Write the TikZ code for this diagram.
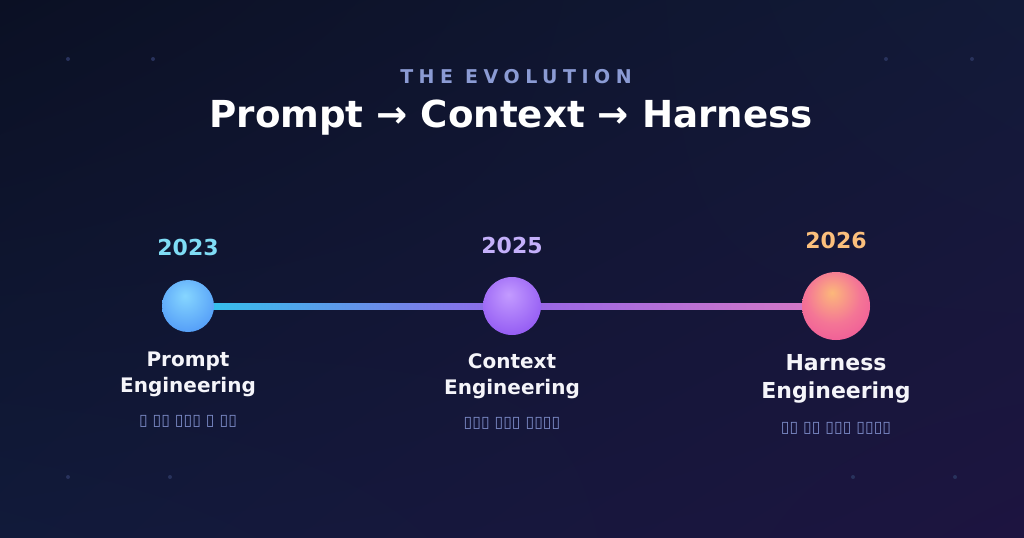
\documentclass[tikz,border=0pt]{standalone}
\usepackage{fontspec}
\setmainfont{DejaVu Sans}
\newfontfamily\trackfont{DejaVu Sans}[LetterSpace=29]
\usetikzlibrary{calc,backgrounds,shadings}

\definecolor{bgtl}{HTML}{0B1024}
\definecolor{bgtr}{HTML}{121A38}
\definecolor{bgbl}{HTML}{111A3A}
\definecolor{bgbr}{HTML}{1D1440}
\definecolor{kicker}{HTML}{8B9BD4}
\definecolor{labelwhite}{HTML}{F5F5FA}
\definecolor{notecol}{HTML}{7D8CC8}
\definecolor{yrcyan}{HTML}{7FDCF5}
\definecolor{yrviolet}{HTML}{C4B0FA}
\definecolor{yrpeach}{HTML}{FBBF7C}
\definecolor{linecyan}{HTML}{2EC6EC}
\definecolor{lineviolet}{HTML}{9466E8}
\definecolor{linepink}{HTML}{DA7AC4}
\definecolor{bluehi}{HTML}{86D6FF}
\definecolor{bluelo}{HTML}{3A80F4}
\definecolor{purphi}{HTML}{C39BFF}
\definecolor{purplo}{HTML}{7B3AED}
\definecolor{pinkhi}{HTML}{FCB87A}
\definecolor{pinkmid}{HTML}{F47596}
\definecolor{pinklo}{HTML}{EC4899}
\definecolor{dotcol}{HTML}{28325C}

\pgfdeclareradialshading{ballblue}{\pgfpoint{-3bp}{10bp}}{color(0bp)=(bluehi); color(48bp)=(bluelo); color(70bp)=(bluelo)}
\pgfdeclareradialshading{ballpurple}{\pgfpoint{-3bp}{10bp}}{color(0bp)=(purphi); color(48bp)=(purplo); color(70bp)=(purplo)}
\pgfdeclareradialshading{ballpink}{\pgfpoint{-3bp}{10bp}}{color(0bp)=(pinkhi); color(20bp)=(pinkmid); color(44bp)=(pinklo); color(70bp)=(pinklo)}

\tikzset{
  stage/.style={circle, inner sep=0pt, shade, minimum size=#1},
  year/.style={anchor=base, font=\fontsize{16.5}{20}\selectfont\bfseries},
  label/.style={anchor=base, align=center, text=labelwhite, font=\fontsize{15}{19.5}\selectfont\bfseries},
  note/.style={anchor=base, text=notecol, font=\fontsize{11.8}{14}\selectfont},
}

\begin{document}
\begin{tikzpicture}[x=0.75pt, y=-0.75pt]
  \useasboundingbox (0,0) rectangle (1024,537);

  % heading
  \node[anchor=base, text=kicker, font=\trackfont\fontsize{14.25}{17}\selectfont\bfseries] (kicker) at (516,83) {THE EVOLUTION};
  \node[anchor=base, text=white, font=\fontsize{27.9}{33}\selectfont\bfseries] (title) at (511,127) {Prompt → Context → Harness};

  % the three stages
  \node[stage=39pt, shading=ballblue] (s1) at (188,306) {};
  \node[stage=43.5pt, shading=ballpurple] (s2) at (512,306) {};
  \node[stage=51pt, shading=ballpink] (s3) at (836,306) {};

  \node[year, text=yrcyan] (y1) at (188,255) {2023};
  \node[year, text=yrviolet] (y2) at (512,253) {2025};
  \node[year, text=yrpeach] (y3) at (836,248) {2026};

  % base of a two-line label is its last line
  \node[label] (l1) at (188,392) {Prompt\\Engineering};
  \node[label] (l2) at (512,394) {Context\\Engineering};
  \node[label, font=\fontsize{16.5}{20.5}\selectfont\bfseries] (l3) at (836,398) {Harness\\Engineering};

  \node[note] (n1) at (188,425) {▯ ▯▯ ▯▯▯ ▯ ▯▯};
  \node[note] (n2) at (512,427) {▯▯▯ ▯▯▯ ▯▯▯▯};
  \node[note] (n3) at (836,432) {▯▯ ▯▯ ▯▯▯ ▯▯▯▯};

  \begin{scope}[on background layer]
    \shade[upper left=bgtl, upper right=bgtr, lower left=bgbl, lower right=bgbr] (0,0) rectangle (1024,537);
    \foreach \dx/\dy in {68/59, 153/59, 886/59, 972/59, 68/477, 170/477, 853/477, 955/477}{
      \fill[dotcol] (\dx,\dy) circle (1.5pt);
    }
    % middle color last, or right color resets it
    \shade[left color=linecyan, right color=linepink, middle color=lineviolet] ($(s1.center)+(0,-3)$) rectangle ($(s3.center)+(0,3)$);
  \end{scope}
\end{tikzpicture}
\end{document}
